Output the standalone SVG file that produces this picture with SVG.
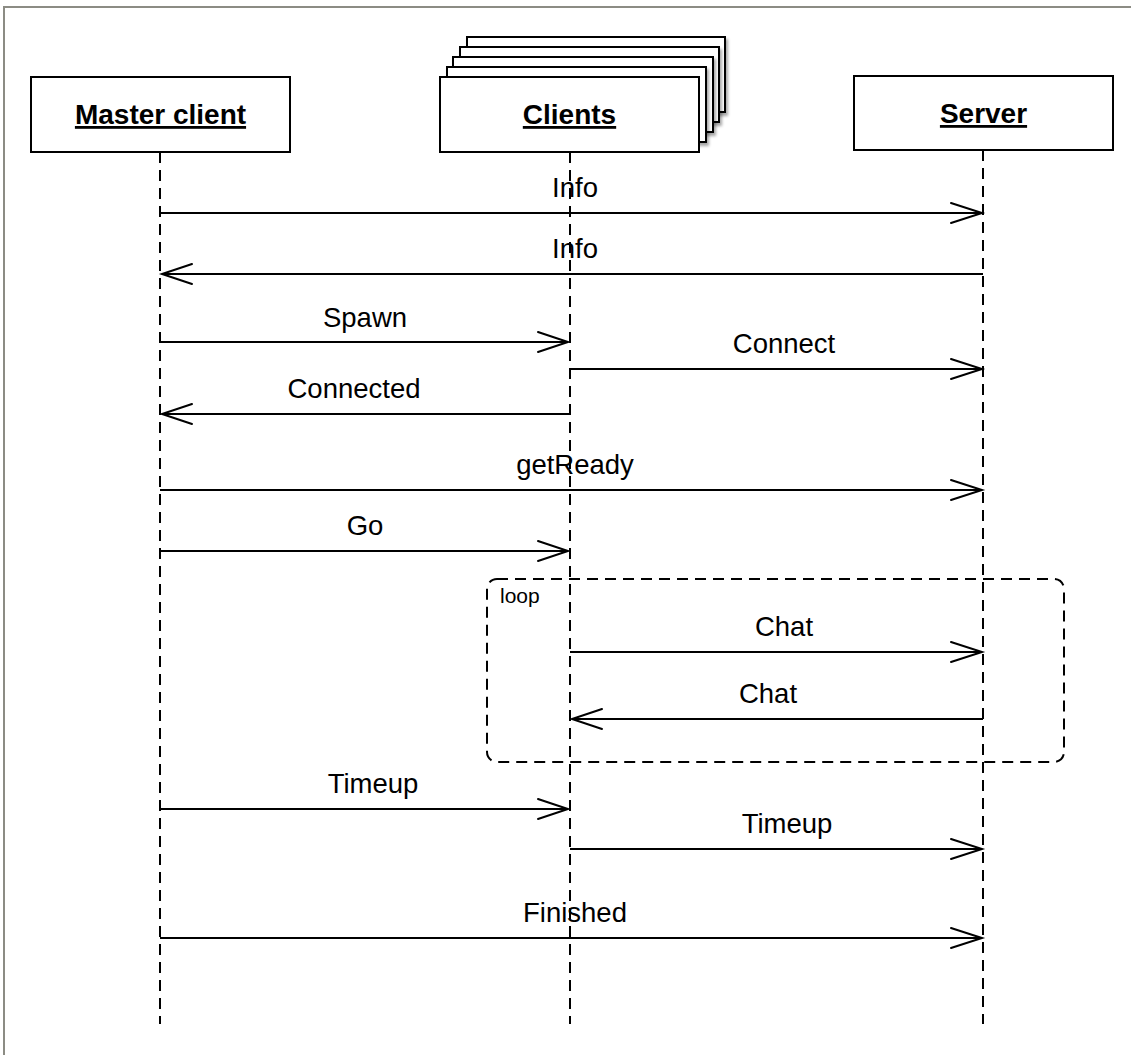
<svg xmlns="http://www.w3.org/2000/svg" width="1131" height="1055" viewBox="0 0 1131 1055">
  <style>
    .frame { fill: none; stroke: #8c8c84; stroke-width: 2; }
    .box { fill: #ffffff; stroke: #000000; stroke-width: 2; }
    .title { font-family: "Liberation Sans", Arial, sans-serif; font-size: 28px; font-weight: bold; text-decoration: underline; text-anchor: middle; fill: #000000; }
    .life { stroke: #000000; stroke-width: 2; stroke-dasharray: 11 7; fill: none; }
    .msg { stroke: #000000; stroke-width: 2; fill: none; }
    .head { stroke: #000000; stroke-width: 2; fill: none; stroke-linecap: round; stroke-linejoin: miter; }
    .lbl { font-family: "Liberation Sans", Arial, sans-serif; font-size: 27.5px; text-anchor: middle; fill: #000000; }
    .frag { fill: none; stroke: #000000; stroke-width: 2; stroke-dasharray: 11 7; }
    .fraglbl { font-family: "Liberation Sans", Arial, sans-serif; font-size: 21px; fill: #000000; }
  </style>
  <defs>
    <filter id="shadow" x="-10%" y="-10%" width="130%" height="140%">
      <feDropShadow dx="2" dy="3" stdDeviation="1.5" flood-color="#000000" flood-opacity="0.35"/>
    </filter>
  </defs>

  <rect width="1131" height="1055" fill="#ffffff"/>
  <!-- page frame (top and left edges) -->
  <path class="frame" d="M4,1055 V7 H1131"/>

  <!-- lifelines -->
  <g id="lifelines">
    <line class="life" x1="160" y1="152" x2="160" y2="1024"/>
    <line class="life" x1="570" y1="152" x2="570" y2="1024"/>
    <line class="life" x1="983" y1="150" x2="983" y2="1024"/>
  </g>

  <!-- participants -->
  <g id="master-client">
    <rect class="box" x="31" y="77" width="259" height="75"/>
    <text class="title" x="160.5" y="124">Master client</text>
  </g>

  <g id="clients">
    <rect class="box" x="467" y="37" width="258" height="75" filter="url(#shadow)"/>
    <rect class="box" x="460" y="47" width="259" height="75" filter="url(#shadow)"/>
    <rect class="box" x="453" y="57" width="260" height="75" filter="url(#shadow)"/>
    <rect class="box" x="447" y="67" width="259" height="75" filter="url(#shadow)"/>
    <rect class="box" x="440" y="77" width="259" height="75"/>
    <text class="title" x="569.5" y="124">Clients</text>
  </g>

  <g id="server">
    <rect class="box" x="854" y="76" width="259" height="74"/>
    <text class="title" x="983.5" y="123">Server</text>
  </g>

  <!-- loop fragment -->
  <g id="loop">
    <rect class="frag" x="487" y="579" width="577" height="183" rx="10" ry="10"/>
    <text class="fraglbl" x="500" y="603">loop</text>
  </g>

  <!-- messages -->
  <g id="connectors">
    <!-- Info: master -> server -->
    <line class="msg" x1="160" y1="213" x2="982" y2="213"/>
    <polyline class="head" points="951,203 982,213 951,223"/>
    <text class="lbl" x="575" y="197">Info</text>

    <!-- Info: server -> master -->
    <line class="msg" x1="983" y1="274" x2="162" y2="274"/>
    <polyline class="head" points="192,264 162,274 192,284"/>
    <text class="lbl" x="575" y="258">Info</text>

    <!-- Spawn: master -> clients -->
    <line class="msg" x1="160" y1="342" x2="568" y2="342"/>
    <polyline class="head" points="538,332 568,342 538,352"/>
    <text class="lbl" x="365" y="327">Spawn</text>

    <!-- Connect: clients -> server -->
    <line class="msg" x1="570" y1="369" x2="982" y2="369"/>
    <polyline class="head" points="951,359 982,369 951,379"/>
    <text class="lbl" x="784" y="353">Connect</text>

    <!-- Connected: clients -> master -->
    <line class="msg" x1="570" y1="414" x2="162" y2="414"/>
    <polyline class="head" points="192,404 162,414 192,424"/>
    <text class="lbl" x="354" y="398">Connected</text>

    <!-- getReady: master -> server -->
    <line class="msg" x1="160" y1="490" x2="982" y2="490"/>
    <polyline class="head" points="951,480 982,490 951,500"/>
    <text class="lbl" x="575" y="474">getReady</text>

    <!-- Go: master -> clients -->
    <line class="msg" x1="160" y1="551" x2="568" y2="551"/>
    <polyline class="head" points="538,541 568,551 538,561"/>
    <text class="lbl" x="365" y="535">Go</text>

    <!-- Chat: clients -> server -->
    <line class="msg" x1="570" y1="652" x2="982" y2="652"/>
    <polyline class="head" points="951,642 982,652 951,662"/>
    <text class="lbl" x="784" y="636">Chat</text>

    <!-- Chat: server -> clients -->
    <line class="msg" x1="983" y1="719" x2="572" y2="719"/>
    <polyline class="head" points="602,709 572,719 602,729"/>
    <text class="lbl" x="768" y="703">Chat</text>

    <!-- Timeup: master -> clients -->
    <line class="msg" x1="160" y1="809" x2="568" y2="809"/>
    <polyline class="head" points="538,799 568,809 538,819"/>
    <text class="lbl" x="373" y="793">Timeup</text>

    <!-- Timeup: clients -> server -->
    <line class="msg" x1="570" y1="849" x2="982" y2="849"/>
    <polyline class="head" points="951,839 982,849 951,859"/>
    <text class="lbl" x="787" y="833">Timeup</text>

    <!-- Finished: master -> server -->
    <line class="msg" x1="160" y1="938" x2="982" y2="938"/>
    <polyline class="head" points="951,928 982,938 951,948"/>
    <text class="lbl" x="575" y="922">Finished</text>
  </g>
</svg>
